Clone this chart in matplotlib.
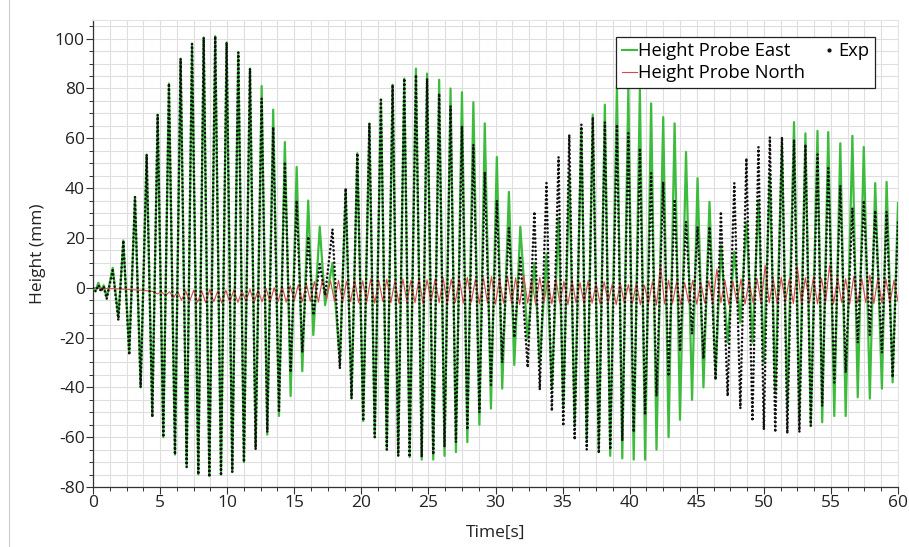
import matplotlib
matplotlib.use("Agg")
import matplotlib.pyplot as plt
from matplotlib.lines import Line2D
from matplotlib.ticker import MultipleLocator

plt.rcParams['font.family'] = ['Open Sans', 'DejaVu Sans']
plt.rcParams['axes.unicode_minus'] = False

# ---- data: extremes (time [s], height [mm]) ----
t_ext = [0.00, 0.20, 0.40, 0.60, 0.80, 1.02, 1.47, 1.89, 2.26, 2.70,
         3.13, 3.55, 4.00, 4.42, 4.82, 5.24, 5.66, 6.11, 6.53, 6.98,
         7.38, 7.85, 8.25, 8.67, 9.11, 9.54, 9.96, 10.38, 10.83, 11.25,
         11.70, 12.12, 12.57, 12.99, 13.43, 13.86, 14.30, 14.73, 15.18, 15.60,
         16.04, 16.42, 16.90, 17.30, 17.85, 18.40, 18.83, 19.27, 19.70, 20.14,
         20.60, 21.00, 21.46, 21.90, 22.33, 22.75, 23.20, 23.60, 24.07, 24.50,
         24.90, 25.36, 25.80, 26.20, 26.65, 27.05, 27.50, 27.90, 28.35, 28.80,
         29.20, 29.66, 30.10, 30.50, 31.00, 31.40, 31.85, 32.40, 32.90, 33.30,
         33.80, 34.20, 34.70, 35.05, 35.50, 35.90, 36.40, 36.80, 37.25, 37.70,
         38.15, 38.55, 39.05, 39.45, 39.90, 40.30, 40.76, 41.15, 41.60, 42.00,
         42.50, 42.90, 43.35, 43.75, 44.20, 44.65, 45.06, 45.50, 45.95, 46.40,
         46.80, 47.30, 47.80, 48.25, 48.70, 49.15, 49.60, 50.00, 50.45, 50.85,
         51.35, 51.75, 52.25, 52.65, 53.10, 53.50, 54.00, 54.35, 54.80, 55.25,
         55.70, 56.10, 56.60, 57.00, 57.45, 57.90, 58.30, 58.80, 59.15, 59.60,
         60.00]

east = [0, -1, 2, -1, 1, -4, 8, -12, 19, -26,
        36.5, -40, 53.5, -51.5, 69.5, -60, 82, -67, 92, -71.5,
        98, -75, 100.5, -75.5, 101, -75, 98.5, -74, 94.5, -70,
        88, -64, 81, -59, 71.5, -51.5, 58.5, -43.5, 48.5, -33.5,
        35, -19, 24.5, -7, 10, -30, 39, -44.5, 54, -53.5,
        66, -60, 75.5, -65, 81.5, -67.5, 84, -68, 88, -69,
        86, -69, 83.5, -67.5, 80, -66, 78.5, -62, 74.5, -55,
        66, -48.5, 52.5, -40.5, 38.5, -31, 24.5, -20.5, 10, -30,
        13.5, -40, 28, -48, 46, -55, 64, -61, 69.5, -65,
        73.5, -67.5, 81, -68.5, 80, -69, 79.5, -69, 74, -65,
        68.5, -60, 66, -53, 54.5, -45, 44, -40, 34.5, -36,
        17, -22, 14.5, -14, 26.5, -22, 35, -30, 45, -42,
        58, -48.5, 66.5, -53, 62, -55, 63, -54, 62.5, -51.5,
        58, -51.5, 61, -44, 56.5, -44.5, 42, -40.5, 42.5, -38,
        34]

exp = [0, -1.5, 1, -1.5, 0.5, -4.5, 7, -13, 19, -27,
       36.5, -40, 53.5, -52, 69.5, -60, 82, -67, 92, -72,
       98, -75, 100.5, -76, 101, -75.5, 98.5, -74, 94.5, -70,
       88, -65, 76, -58, 64.5, -50, 50.5, -34, 35, -26,
       20.5, -11, 9.5, -3, 23.5, -32.5, 40, -44.5, 54, -53.5,
       66, -60, 75.5, -65, 81.5, -67.5, 84, -68, 85.5, -68,
       84, -67, 78, -64, 73, -62, 65, -57, 57.5, -50,
       46.5, -39, 35, -30, 24, -20, 12, -32, 30.5, -41,
       42, -49.5, 52.5, -55.5, 61.5, -61, 65.5, -65, 68.5, -66.5,
       66.5, -65, 65.5, -61.5, 62, -58, 56, -51, 46, -43.5,
       42.5, -35.5, 35.5, -25.5, 26.5, -18.5, 24.5, -28.5, 24.5, -37,
       30.5, -43.5, 42, -48.5, 52, -53.5, 56.5, -57, 60.5, -58,
       60.5, -58.5, 59.5, -58, 57.5, -55.5, 53.5, -47.5, 48, -38,
       41, -34, 32, -22, 35, -19, 31, -26, 30.5, -36,
       26.5]

t_north = [0.0, 1.0, 2.0, 3.0, 4.0,
           4.5, 4.8, 5.1, 5.4, 5.7, 6.0, 6.3, 6.6, 6.9, 7.2,
           7.5, 7.8, 8.1, 8.4, 8.7, 9.0, 9.3, 9.6, 9.9, 10.2,
           10.5, 10.8, 11.1, 11.4, 11.7, 12.0, 12.3, 12.6, 12.9, 13.2,
           13.5, 13.8, 14.1, 14.4, 14.7, 15.0, 15.3, 15.6, 15.9, 16.2,
           16.5, 16.8, 17.1, 17.4, 17.7, 18.0, 18.3, 18.6, 18.9, 19.2,
           19.5, 19.8, 20.1, 20.4, 20.7, 21.0, 21.3, 21.6, 21.9, 22.2,
           22.5, 22.8, 23.1, 23.4, 23.7, 24.0, 24.3, 24.6, 24.9, 25.2,
           25.5, 25.8, 26.1, 26.4, 26.7, 27.0, 27.3, 27.6, 27.9, 28.2,
           28.5, 28.8, 29.1, 29.4, 29.7, 30.0, 30.3, 30.6, 30.9, 31.2,
           31.5, 31.8, 32.1, 32.4, 32.7, 33.0, 33.3, 33.6, 33.9, 34.2,
           34.5, 34.8, 35.1, 35.4, 35.7, 36.0, 36.3, 36.6, 36.9, 37.2,
           37.5, 37.8, 38.1, 38.4, 38.7, 39.0, 39.3, 39.6, 39.9, 40.2,
           40.5, 40.8, 41.1, 41.4, 41.7, 42.0, 42.3, 42.6, 42.9, 43.2,
           43.5, 43.8, 44.1, 44.4, 44.7, 45.0, 45.3, 45.6, 45.9, 46.2,
           46.5, 46.8, 47.1, 47.4, 47.7, 48.0, 48.3, 48.6, 48.9, 49.2,
           49.5, 49.8, 50.1, 50.4, 50.7, 51.0, 51.3, 51.6, 51.9, 52.2,
           52.5, 52.8, 53.1, 53.4, 53.7, 54.0, 54.3, 54.6, 54.9, 55.2,
           55.5, 55.8, 56.1, 56.4, 56.7, 57.0, 57.3, 57.6, 57.9, 58.2,
           58.5, 58.8, 59.1, 59.4, 59.7, 60.0]

north = [0, -0.3, -0.5, -0.8, -1.2,
         -1.5, -2.5, -1.6, -3.2, -1.6, -4.0, -1.5, -5.0, -1.2, -5.5,
         -1.0, -5.8, -1.2, -6.0, -0.8, -5.6, -1.3, -6.2, -1.0, -5.8,
         -0.8, -5.9, -1.2, -5.5, -0.6, -6.0, -0.9, -5.6, -0.3, -5.8,
         0.0, -5.5, 0.6, -5.8, 0.8, -5.2, 1.2, -5.6, 1.6, -5.5,
         2.5, -5.8, 3.5, -4.5, 2.8, -5.5, 3.0, -6.0, 2.6, -5.6,
         3.2, -6.0, 2.8, -5.8, 3.6, -6.2, 3.0, -5.5, 3.4, -6.0,
         2.8, -6.2, 3.5, -5.8, 3.0, -6.0, 3.8, -6.4, 3.2, -5.8,
         3.6, -6.0, 4.0, -6.5, 3.4, -6.0, 3.8, -6.2, 4.2, -5.8,
         3.5, -6.4, 4.0, -6.0, 4.5, -6.6, 3.8, -6.2, 4.6, -6.5,
         4.0, -6.8, 5.0, -6.2, 3.5, -7.0, 4.2, -6.0, 3.0, -6.5,
         3.6, -6.2, 2.5, -6.8, 3.2, -6.0, 2.0, -6.5, 2.8, -6.2,
         1.8, -6.6, 2.4, -6.0, 1.5, -6.8, 2.0, -6.2, 1.2, -6.5,
         2.0, -6.8, 1.0, -6.4, 2.5, -7.0, 9.0, -6.5, 3.0, -6.2,
         2.5, -6.8, 2.0, -6.0, 3.0, -6.6, 2.2, -6.2, 2.8, -6.5,
         7.5, -6.0, 3.0, -6.8, 2.5, -6.2, 3.5, -6.6, 2.8, -6.0,
         3.6, -6.4, 9.0, -6.0, 3.8, -6.6, 4.2, -6.0, 3.5, -6.4,
         8.5, -6.2, 4.0, -6.0, 4.4, -6.5, 3.8, -6.0, 9.0, -6.4,
         4.2, -6.0, 3.6, -6.6, 4.5, -6.2, 3.8, -6.0, 5.0, -6.4,
         4.0, -6.0, 3.5, -6.2, 3.0, -5.5]

x_ticks = [0, 5, 10, 15, 20, 25, 30, 35, 40, 45, 50, 55, 60]
y_ticks = [-80, -60, -40, -20, 0, 20, 40, 60, 80, 100]
labels = ["Height Probe East", "Height Probe North", "Exp"]

# ---- figure ----
W, H = 909, 547
fig = plt.figure(figsize=(W / 100, H / 100), dpi=100)
ax = fig.add_axes([93 / W, 60 / H, 805 / W, 467 / H])

ax.plot(t_ext, east, color='#3dbb3d', lw=1.6, zorder=3)
ax.plot(t_north, north, color='#d44a4a', lw=0.8, zorder=4)
ax.plot(t_ext, exp, color='#111111', lw=1.9, linestyle=(0, (0.01, 1.55)),
        dash_capstyle='round', zorder=5)

ax.set_xlim(0, 60)
ax.set_ylim(-80, 107.5)
ax.set_xticks(x_ticks)
ax.set_yticks(y_ticks)
ax.set_xticklabels([str(v) for v in x_ticks])
ax.set_yticklabels([str(v) for v in y_ticks])
ax.xaxis.set_minor_locator(MultipleLocator(1.25))
ax.yaxis.set_minor_locator(MultipleLocator(5))
ax.grid(which='both', color='#dedede', lw=0.8, zorder=0)
ax.set_axisbelow(True)

for s in ['top', 'right']:
    ax.spines[s].set_color('#e4e4e4')
    ax.spines[s].set_linewidth(0.8)
for s in ['left', 'bottom']:
    ax.spines[s].set_color('#333333')
    ax.spines[s].set_linewidth(0.9)

ax.tick_params(which='major', direction='out', length=5, width=0.8,
               color='#333333', labelsize=12.5, labelcolor='#222222', pad=1)
ax.tick_params(which='minor', direction='out', length=3, width=0.7,
               color='#333333')

ax.set_xlabel("Time[s]", fontsize=12.5, color='#222222', labelpad=10)
ax.set_ylabel("Height (mm)", fontsize=12.5, color='#222222', labelpad=6)

handles = [Line2D([], [], color='#3dbb3d', lw=1.5),
           Line2D([], [], color='#d44a4a', lw=0.8),
           Line2D([], [], color='#111111', lw=0, marker='.', markersize=4)]
leg = ax.legend(handles, labels, ncol=2, loc='upper right',
                bbox_to_anchor=(0.9714, 0.9636), borderaxespad=0,
                fontsize=13.2, frameon=True, fancybox=False, framealpha=1,
                edgecolor='#222222', handlelength=0.8, handletextpad=0.1,
                columnspacing=0.9, borderpad=0.3, labelspacing=0.2)
leg.get_frame().set_linewidth(0.9)
leg.set_zorder(10)

fig.add_artist(Line2D([8.5 / W, 8.5 / W], [0, 1], color='#cfcfcf', lw=0.8))

fig.savefig("out.png", dpi=100)
